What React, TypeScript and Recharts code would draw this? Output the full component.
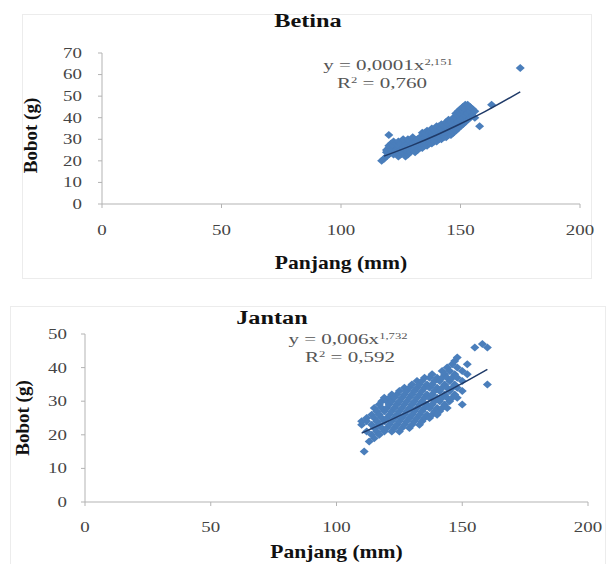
import { ScatterChart, Scatter, XAxis, YAxis } from 'recharts'

const FONT = '"Liberation Serif", "Times New Roman", serif'
const BLUE = '#4a7ebb'
const TREND = '#1f3a68'
const AXIS = '#b3b3b3'

const xTicks = [0, 50, 100, 150, 200]
const betinaYTicks = [0, 10, 20, 30, 40, 50, 60, 70]
const jantanYTicks = [0, 10, 20, 30, 40, 50]

// Betina (female): length (mm), weight (g)
const betinaPoints: [number, number][] = [
  [117, 20], [118, 21], [120, 32], [158, 36], [163, 46], [175, 63],
  [119, 22], [119, 24], [119, 25], [120, 23], [120, 26], [120, 27],
  [121, 24], [121, 25], [121, 28], [122, 23], [122, 26], [122, 27], [122, 29],
  [123, 24], [123, 25], [123, 28], [124, 22], [124, 26], [124, 27], [124, 29],
  [125, 23], [125, 25], [125, 28], [126, 24], [126, 26], [126, 29], [126, 30],
  [127, 22], [127, 25], [127, 27], [128, 23], [128, 26], [128, 28], [128, 30],
  [129, 24], [129, 27], [129, 29], [130, 25], [130, 28], [130, 30], [130, 31],
  [131, 24], [131, 26], [131, 29], [132, 25], [132, 27], [132, 30],
  [133, 26], [133, 28], [133, 31], [134, 26], [134, 29], [134, 30], [134, 33],
  [135, 27], [135, 29], [135, 31], [135, 33], [136, 27], [136, 30], [136, 32], [136, 34],
  [137, 28], [137, 30], [137, 33], [138, 28], [138, 31], [138, 33], [138, 35],
  [139, 29], [139, 32], [139, 34], [140, 29], [140, 31], [140, 33], [140, 35], [140, 36],
  [141, 30], [141, 32], [141, 34], [141, 36], [142, 30], [142, 33], [142, 35], [142, 37],
  [143, 31], [143, 33], [143, 36], [144, 31], [144, 34], [144, 36], [144, 38],
  [145, 32], [145, 34], [145, 37], [145, 39], [146, 32], [146, 35], [146, 38],
  [147, 33], [147, 36], [147, 39], [147, 40], [148, 34], [148, 37], [148, 40], [148, 42],
  [149, 35], [149, 38], [149, 41], [149, 43], [150, 36], [150, 39], [150, 42], [150, 44],
  [151, 37], [151, 40], [151, 43], [151, 45], [152, 38], [152, 41], [152, 44], [152, 46],
  [153, 39], [153, 42], [153, 45], [153, 46], [154, 40], [154, 43], [154, 45],
  [155, 41], [155, 44], [156, 40], [156, 43],
]

const betinaTrend: [number, number][] = [
  [118, 22.2], [130, 27.3], [140, 32], [150, 37.2], [160, 42.7], [175, 52],
]

// Jantan (male)
const jantanPoints: [number, number][] = [
  [111, 15], [113, 18], [115, 19], [155, 46], [158, 47], [160, 46], [160, 35], [150, 29], [148, 31],
  [110, 23], [110, 24], [112, 21], [112, 24], [112, 25], [114, 20], [114, 23], [114, 26],
  [115, 22], [115, 25], [115, 28], [116, 21], [116, 24], [116, 27],
  [117, 20], [117, 23], [117, 26], [117, 29], [118, 22], [118, 25], [118, 28], [118, 30],
  [119, 21], [119, 24], [119, 27], [119, 31], [120, 22], [120, 25], [120, 28], [120, 30],
  [121, 23], [121, 26], [121, 29], [121, 31], [122, 21], [122, 24], [122, 27], [122, 30], [122, 32],
  [123, 22], [123, 25], [123, 28], [123, 31], [124, 23], [124, 26], [124, 29], [124, 32],
  [125, 21], [125, 24], [125, 27], [125, 30], [125, 33], [126, 22], [126, 25], [126, 28], [126, 31],
  [127, 23], [127, 26], [127, 29], [127, 32], [127, 34], [128, 24], [128, 27], [128, 30], [128, 33],
  [129, 22], [129, 25], [129, 28], [129, 31], [129, 34], [130, 23], [130, 26], [130, 29], [130, 32], [130, 35],
  [131, 24], [131, 27], [131, 30], [131, 33], [132, 25], [132, 28], [132, 31], [132, 34], [132, 36],
  [133, 23], [133, 26], [133, 29], [133, 32], [133, 35], [134, 24], [134, 27], [134, 30], [134, 33], [134, 36],
  [135, 25], [135, 28], [135, 31], [135, 34], [135, 37], [136, 26], [136, 29], [136, 32], [136, 35],
  [137, 25], [137, 28], [137, 31], [137, 34], [137, 37], [138, 26], [138, 29], [138, 32], [138, 35], [138, 38],
  [139, 27], [139, 30], [139, 33], [139, 36], [140, 26], [140, 28], [140, 31], [140, 34], [140, 37],
  [141, 27], [141, 30], [141, 33], [141, 36], [142, 28], [142, 31], [142, 34], [142, 37], [142, 39],
  [143, 29], [143, 32], [143, 35], [143, 38], [144, 28], [144, 31], [144, 34], [144, 37], [144, 40],
  [145, 30], [145, 33], [145, 36], [145, 39], [146, 31], [146, 34], [146, 37], [146, 41],
  [147, 32], [147, 35], [147, 38], [147, 42], [148, 34], [148, 37], [148, 40], [148, 43],
  [150, 33], [150, 36], [150, 39], [152, 38], [152, 41],
]

const jantanTrend: [number, number][] = [
  [110, 20.5], [120, 23.9], [130, 27.4], [140, 31.3], [150, 35.3], [160, 39.5],
]

const toRows = (pts: [number, number][]) => pts.map(([x, y]) => ({ x, y }))

const Diamond = (props: any) => {
  const { cx, cy } = props
  if (cx == null || cy == null) return <g />
  const rx = 4.5
  const ry = 4
  return (
    <path
      d={`M${cx},${cy - ry}L${cx + rx},${cy}L${cx},${cy + ry}L${cx - rx},${cy}Z`}
      fill={BLUE}
    />
  )
}

const NoDot = () => <g />

const Tick = (props: any) => {
  const { x, y, payload, axis } = props
  const isX = axis === 'x'
  return (
    <g transform={`translate(${x},${y}) scale(1.35,1)`}>
      <text
        textAnchor={isX ? 'middle' : 'end'}
        dy={isX ? '0.71em' : '0.35em'}
        fontFamily={FONT}
        fontSize={14}
        fill="#444"
      >
        {payload.value}
      </text>
    </g>
  )
}

const xTitle = (dy: number) => ({
  content: ({ viewBox }: any) => {
    const cx = viewBox.x + viewBox.width / 2
    const cy = viewBox.y + viewBox.height + dy
    return (
      <g transform={`translate(${cx},${cy}) scale(1.2,1)`}>
        <text textAnchor="middle" dy="0.35em" fontFamily={FONT} fontSize={18} fontWeight={700} fill="#111">
          Panjang (mm)
        </text>
      </g>
    )
  },
})

const yTitle = (dx: number, dy: number) => ({
  content: ({ viewBox }: any) => {
    const cx = viewBox.x + dx
    const cy = viewBox.y + viewBox.height / 2 + dy
    return (
      <text
        x={cx}
        y={cy}
        transform={`rotate(-90 ${cx} ${cy})`}
        textAnchor="middle"
        dominantBaseline="central"
        fontFamily={FONT}
        fontSize={19}
        fontWeight={700}
        fill="#111"
      >
        Bobot (g)
      </text>
    )
  },
})

function Overlay({ x, y, size, bold, sx, color, children }: any) {
  return (
    <div
      style={{
        position: 'absolute',
        left: x,
        top: y,
        transform: `translate(-50%, -50%) scaleX(${sx})`,
        fontFamily: FONT,
        fontSize: size,
        fontWeight: bold ? 700 : 400,
        color,
        whiteSpace: 'nowrap',
        lineHeight: 1,
      }}
    >
      {children}
    </div>
  )
}

const Sup = ({ children }: any) => (
  <span style={{ fontSize: '0.6em', position: 'relative', top: '-0.6em' }}>{children}</span>
)

export default function App() {
  return (
    <div style={{ position: 'absolute', left: 0, top: 0, width: 606, height: 564, background: '#fff', overflow: 'hidden' }}>
      <div style={{ position: 'absolute', left: 22, top: 14, width: 568, height: 263, border: '1px solid #ececec' }} />
      <div style={{ position: 'absolute', left: 10, top: 306, width: 594, height: 262, border: '1px solid #ececec' }} />

      <div style={{ position: 'absolute', left: 0, top: 0 }}>
        <ScatterChart width={606} height={280} margin={{ top: 53, right: 26, bottom: 36, left: 42 }}>
          <XAxis
            type="number"
            dataKey="x"
            domain={[0, 200]}
            ticks={xTicks}
            interval={0}
            height={40}
            tickSize={4}
            tickMargin={17}
            stroke={AXIS}
            tick={<Tick axis="x" />}
            label={xTitle(19)}
          />
          <YAxis
            type="number"
            dataKey="y"
            domain={[0, 70]}
            ticks={betinaYTicks}
            interval={0}
            width={60}
            tickSize={4}
            tickMargin={16}
            stroke={AXIS}
            tick={<Tick axis="y" />}
            label={yTitle(-12, 7)}
          />
          <Scatter data={toRows(betinaPoints)} shape={Diamond} isAnimationActive={false} />
          <Scatter
            data={toRows(betinaTrend)}
            shape={NoDot}
            line={{ stroke: TREND, strokeWidth: 1.5 }}
            lineJointType="monotoneX"
            isAnimationActive={false}
          />
        </ScatterChart>
      </div>

      <div style={{ position: 'absolute', left: 0, top: 290 }}>
        <ScatterChart width={606} height={274} margin={{ top: 44, right: 18, bottom: 22, left: 25 }}>
          <XAxis
            type="number"
            dataKey="x"
            domain={[0, 200]}
            ticks={xTicks}
            interval={0}
            height={40}
            tickSize={4}
            tickMargin={16}
            stroke={AXIS}
            tick={<Tick axis="x" />}
            label={xTitle(10)}
          />
          <YAxis
            type="number"
            dataKey="y"
            domain={[0, 50]}
            ticks={jantanYTicks}
            interval={0}
            width={60}
            tickSize={4}
            tickMargin={14}
            stroke={AXIS}
            tick={<Tick axis="y" />}
            label={yTitle(-3, 0)}
          />
          <Scatter data={toRows(jantanPoints)} shape={Diamond} isAnimationActive={false} />
          <Scatter
            data={toRows(jantanTrend)}
            shape={NoDot}
            line={{ stroke: TREND, strokeWidth: 1.5 }}
            lineJointType="monotoneX"
            isAnimationActive={false}
          />
        </ScatterChart>
      </div>

      <Overlay x={308} y={21} size={18} bold sx={1.35} color="#111">Betina</Overlay>
      <Overlay x={388} y={65} size={15} sx={1.4} color="#555">
        y = 0,0001x<Sup>2,151</Sup>
      </Overlay>
      <Overlay x={382} y={83} size={15} sx={1.4} color="#555">
        R<Sup>2</Sup> = 0,760
      </Overlay>

      <Overlay x={272} y={318} size={18} bold sx={1.35} color="#111">Jantan</Overlay>
      <Overlay x={348} y={339} size={15} sx={1.4} color="#555">
        y = 0,006x<Sup>1,732</Sup>
      </Overlay>
      <Overlay x={350} y={357} size={15} sx={1.4} color="#555">
        R<Sup>2</Sup> = 0,592
      </Overlay>
    </div>
  )
}
